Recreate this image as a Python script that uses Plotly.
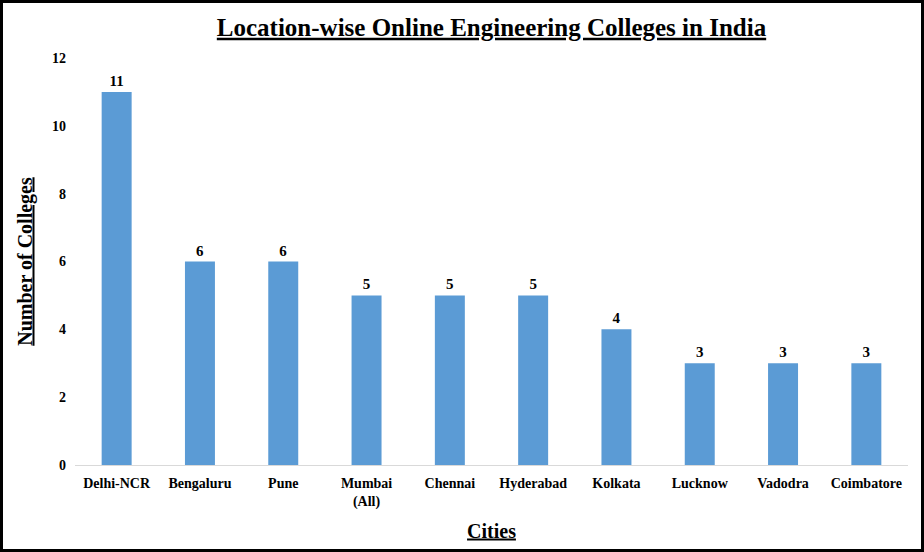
import plotly.graph_objects as go

cities = ["Delhi-NCR", "Bengaluru", "Pune", "Mumbai<br>(All)", "Chennai", "Hyderabad",
          "Kolkata", "Lucknow", "Vadodra", "Coimbatore"]
colleges = [11, 6, 6, 5, 5, 5, 4, 3, 3, 3]

W, H = 924, 552
L, R, T, B = 75, 16, 58, 87
pw, ph = W - L - R, H - T - B

FONT = "Liberation Serif"

fig = go.Figure(go.Bar(
    x=cities, y=colleges,
    marker=dict(color="#5B9BD5", line=dict(width=0)),
    text=[f"<b>{v}</b>" for v in colleges],
    textposition="outside",
    textfont=dict(family=FONT, size=15, color="#000"),
    cliponaxis=False,
))

fig.update_layout(
    width=W, height=H,
    margin=dict(l=L, r=R, t=T, b=B),
    paper_bgcolor="white", plot_bgcolor="white",
    bargap=0.64,
    showlegend=False,
    title=dict(text="<b><u>Location-wise Online Engineering Colleges in India</u></b>",
               x=0.5, xanchor="center", xref="paper", y=1 - 27 / H, yanchor="middle",
               font=dict(family=FONT, size=25, color="#000")),
    font=dict(family=FONT, color="#000"),
    xaxis=dict(
        showline=True, linecolor="#d9d9d9", linewidth=1,
        ticks="", showgrid=False,
        tickfont=dict(family=FONT, size=14, color="#000"),
        tickprefix="<b>", ticksuffix="</b>",
        ticklabelstandoff=5,
        title=dict(text="<b><u>Cities</u></b>", font=dict(family=FONT, size=20, color="#000"),
                   standoff=14),
    ),
    yaxis=dict(
        range=[0, 12], dtick=2, showgrid=False, zeroline=False, showline=False,
        ticks="", tickfont=dict(family=FONT, size=14, color="#000"),
        tickprefix="<b>", ticksuffix="</b>",
        ticklabelstandoff=8,
        title=dict(text="<b><u>Number of Colleges</u></b>",
                   font=dict(family=FONT, size=20, color="#000"), standoff=14),
    ),
    shapes=[dict(
        type="rect", xref="paper", yref="paper",
        x0=(1.5 - L) / pw, x1=(W - 1.5 - L) / pw,
        y0=-(B - 1.5) / ph, y1=1 + (T - 1.5) / ph,
        line=dict(color="#000", width=3), fillcolor="rgba(0,0,0,0)", layer="above",
    )],
)

fig.write_html("out.html", config={"displayModeBar": False},
               post_script="document.body.style.margin='0';document.body.style.padding='0';")
